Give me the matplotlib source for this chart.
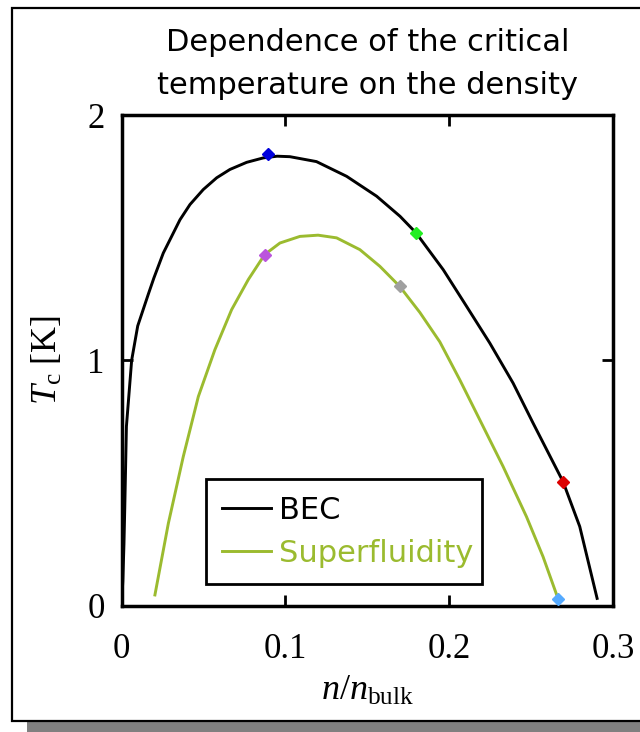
import matplotlib
matplotlib.use("Agg")
import matplotlib.pyplot as plt
from matplotlib.patches import Rectangle

# critical temperature vs. reduced density
n_bec = [0.0, 0.0008, 0.0015, 0.002, 0.003, 0.0062, 0.0099, 0.0164, 0.0198, 0.0255,
         0.0306, 0.0357, 0.0418, 0.0499, 0.0581, 0.0662, 0.0764, 0.0865, 0.0950, 0.1028,
         0.119, 0.1374, 0.1557, 0.170, 0.1797, 0.1964, 0.2106, 0.2248, 0.239, 0.2512,
         0.2695, 0.2797, 0.2903]
T_bec = [0.0, 0.10, 0.25, 0.40, 0.73, 1.00, 1.14, 1.27, 1.336, 1.437,
         1.505, 1.573, 1.635, 1.696, 1.744, 1.778, 1.807, 1.825, 1.832, 1.83,
         1.81, 1.75, 1.669, 1.587, 1.52, 1.369, 1.22, 1.07, 0.907, 0.744,
         0.505, 0.322, 0.029]

n_sf = [0.0204, 0.0286, 0.0377, 0.0469, 0.057, 0.0672, 0.0774, 0.0874, 0.0967, 0.1089,
        0.120, 0.1313, 0.1455, 0.1577, 0.1697, 0.1821, 0.1943, 0.2065, 0.2187, 0.2329,
        0.2472, 0.2573, 0.2665]
T_sf = [0.043, 0.335, 0.607, 0.852, 1.043, 1.206, 1.329, 1.431, 1.478, 1.505,
        1.51, 1.499, 1.451, 1.383, 1.302, 1.195, 1.075, 0.92, 0.757, 0.567,
        0.362, 0.199, 0.027]

# highlighted points on the two curves
pts_n = [0.0895, 0.1797, 0.2695, 0.0874, 0.1697, 0.2665]
pts_T = [1.843, 1.52, 0.505, 1.431, 1.302, 0.027]
pts_c = ['#0000DD', '#22EE22', '#DD0000', '#BB55DD', '#A0A0A0', '#55AAFF']

plt.rcParams['mathtext.fontset'] = 'custom'
plt.rcParams['mathtext.rm'] = 'Liberation Serif'
plt.rcParams['mathtext.it'] = 'Liberation Serif:italic'

fig = plt.figure(figsize=(6.4, 7.32), dpi=100)

# outer frame with drop shadow
fig.patches.append(Rectangle((27/640., 0.0), 1.0, 10/732., transform=fig.transFigure,
                             facecolor='#808080', edgecolor='none', zorder=0))
fig.patches.append(Rectangle((12/640., 1-721/732.), 1.0, (721-8)/732., transform=fig.transFigure,
                             facecolor='white', edgecolor='black', linewidth=1.6, zorder=1))

ax = fig.add_axes([121.5/640., 1-605.5/732., 491.5/640., 490.5/732.])
ax.set_zorder(2)

green = '#9BBB2F'
ax.plot(n_bec, T_bec, color='black', lw=2.1, label='BEC')
ax.plot(n_sf, T_sf, color=green, lw=2.1, label='Superfluidity')
for x, y, c in zip(pts_n, pts_T, pts_c):
    ax.plot(x, y, marker='D', color=c, markersize=6, zorder=5)

ax.set_xlim(0, 0.3)
ax.set_ylim(0, 2)
ax.set_xticks([0, 0.1, 0.2, 0.3])
ax.set_xticklabels(['0', '0.1', '0.2', '0.3'])
ax.set_yticks([0, 1, 2])
ax.tick_params(direction='in', length=8, width=2, top=True, right=True,
               labelsize=25)
ax.tick_params(axis='x', pad=20)
ax.tick_params(axis='y', pad=12)
for lab in ax.get_xticklabels() + ax.get_yticklabels():
    lab.set_family('Liberation Serif')
for s in ax.spines.values():
    s.set_linewidth(2.5)

ax.set_xlabel(r'$\mathit{n}/\mathit{n}_{\mathrm{bulk}}$', fontsize=26, labelpad=5)
ax.set_ylabel(r'$\mathit{T}_{\mathrm{c}}\ \mathrm{[K]}$', fontsize=26, labelpad=17)

ax.text(0.5, 1.03, 'Dependence of the critical\ntemperature on the density',
        transform=ax.transAxes, ha='center', va='bottom', fontsize=22,
        family='DejaVu Sans', linespacing=1.6)

leg = ax.legend(loc='lower left', bbox_to_anchor=(0.171, 0.043, 0.562, 0.2),
                mode='expand', borderaxespad=0, fancybox=False, framealpha=1,
                edgecolor='black', labelcolor='linecolor', handlelength=1.6,
                handletextpad=0.25, prop={'family': 'DejaVu Sans', 'size': 22},
                borderpad=0.55, labelspacing=0.45)
leg.get_frame().set_linewidth(2.0)

fig.savefig('out.png', dpi=100)
